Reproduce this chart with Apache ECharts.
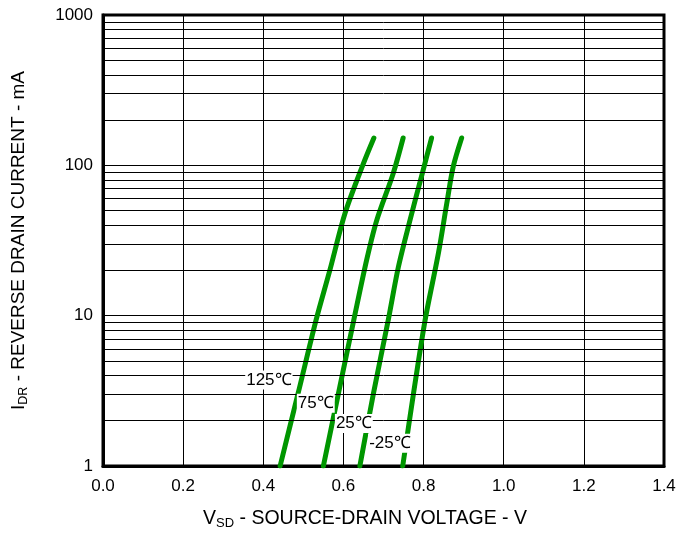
<!DOCTYPE html>
<html><head><meta charset="utf-8">
<script src="https://cdn.jsdelivr.net/npm/echarts@6/dist/echarts.min.js"></script>
<style>html,body{margin:0;padding:0;background:#fff}#c{width:696px;height:533px}</style>
</head><body><div id="c"></div>
<script>
// Curves: [V_SD (V), I_DR (mA)]
const curve125 = [[0.442,1],[0.487,3.05],[0.532,9.4],[0.566,20],[0.604,48],[0.650,103],[0.676,152]];
const curve75  = [[0.550,1],[0.591,3.37],[0.626,9.4],[0.658,23.5],[0.683,43],[0.724,88],[0.749,152]];
const curve25  = [[0.641,1],[0.675,3.05],[0.712,9.4],[0.737,21],[0.766,43],[0.799,93],[0.820,152]];
const curveM25 = [[0.748,1],[0.775,3.05],[0.804,9.4],[0.837,26],[0.858,56],[0.874,98],[0.895,152]];
const curveNames = ['125℃','75℃','25℃','-25℃'];
// label anchor positions in data coordinates
const labelPos = [[0.414,3.73],[0.531,2.61],[0.626,1.92],[0.716,1.416]];
const minorGrid = [2,3,4,5,6,7,8,9,20,30,40,50,60,70,80,90,200,300,400,500,600,700,800,900];
const xTicks = [0,0.2,0.4,0.6,0.8,1.0,1.2,1.4];

const chart = echarts.init(document.getElementById('c'));
const green = '#009600';
const font = 'Liberation Sans, Arial, sans-serif';
const curves = [curve125, curve75, curve25, curveM25];
const series = curves.map((d,i)=>({
  type:'line', data:d, symbol:'none', smooth:0.3, z:3,
  lineStyle:{color:green, width:5, cap:'round', join:'round'},
  silent:true
}));
series.push({
  type:'line', data:[], symbol:'none', z:1,
  markLine:{silent:true, symbol:'none', label:{show:false},
    lineStyle:{color:'#000', width:1, type:'solid'},
    data: minorGrid.map(v=>({yAxis:v}))}
});
series.push({
  type:'scatter', symbol:'circle', symbolSize:1, z:10, silent:true,
  itemStyle:{color:'#fff', opacity:1},
  data: labelPos.map((p,i)=>({value:p, name:curveNames[i]})),
  label:{show:true, position:'inside', formatter:p=>p.name, color:'#000', opacity:1,
    fontFamily:font, fontSize:17, backgroundColor:'#fff', padding:[1,1]},
  emphasis:{disabled:true}
});

const richX = {m:{fontFamily:font, fontSize:19.5, color:'#000'}, s:{fontFamily:font, fontSize:13, color:'#000', verticalAlign:'bottom', padding:[10,0,0,0]}};
const richY = {m:{fontFamily:font, fontSize:19, color:'#000'}, s:{fontFamily:font, fontSize:12.5, color:'#000', verticalAlign:'bottom', padding:[10,0,0,0]}};
chart.setOption({
  animation:false,
  backgroundColor:'#fff',
  grid:{left:103, right:32, top:15, bottom:67, show:true, borderColor:'#000', borderWidth:3, outerBoundsMode:'none', containLabel:false},
  xAxis:{type:'value', min:0, max:1.4, interval:0.2,
    axisLine:{show:true, lineStyle:{color:'#000', width:3}},
    axisTick:{show:false},
    splitLine:{show:true, lineStyle:{color:'#000', width:1}},
    axisLabel:{color:'#000', fontFamily:font, fontSize:17, margin:12,
      formatter:v=>{const t=xTicks.find(x=>Math.abs(x-v)<1e-6); return (t===undefined?v:t).toFixed(1);}},
    name:'{m|V}{s|SD}{m| - SOURCE-DRAIN VOLTAGE - V}', nameLocation:'middle', nameGap:41,
    nameTextStyle:{rich:richX, padding:[0,37,0,0]}
  },
  yAxis:{type:'log', logBase:10, min:1, max:1000,
    axisLine:{show:true, lineStyle:{color:'#000', width:3}},
    axisTick:{show:false},
    splitLine:{show:true, lineStyle:{color:'#000', width:1}},
    axisLabel:{color:'#000', fontFamily:font, fontSize:17, margin:10, formatter:v=>String(Math.round(v))},
    name:'{m|I}{s|DR}{m| - REVERSE DRAIN CURRENT - mA}', nameLocation:'middle', nameGap:73,
    nameTextStyle:{rich:richY}
  },
  series:series
});
</script></body></html>
